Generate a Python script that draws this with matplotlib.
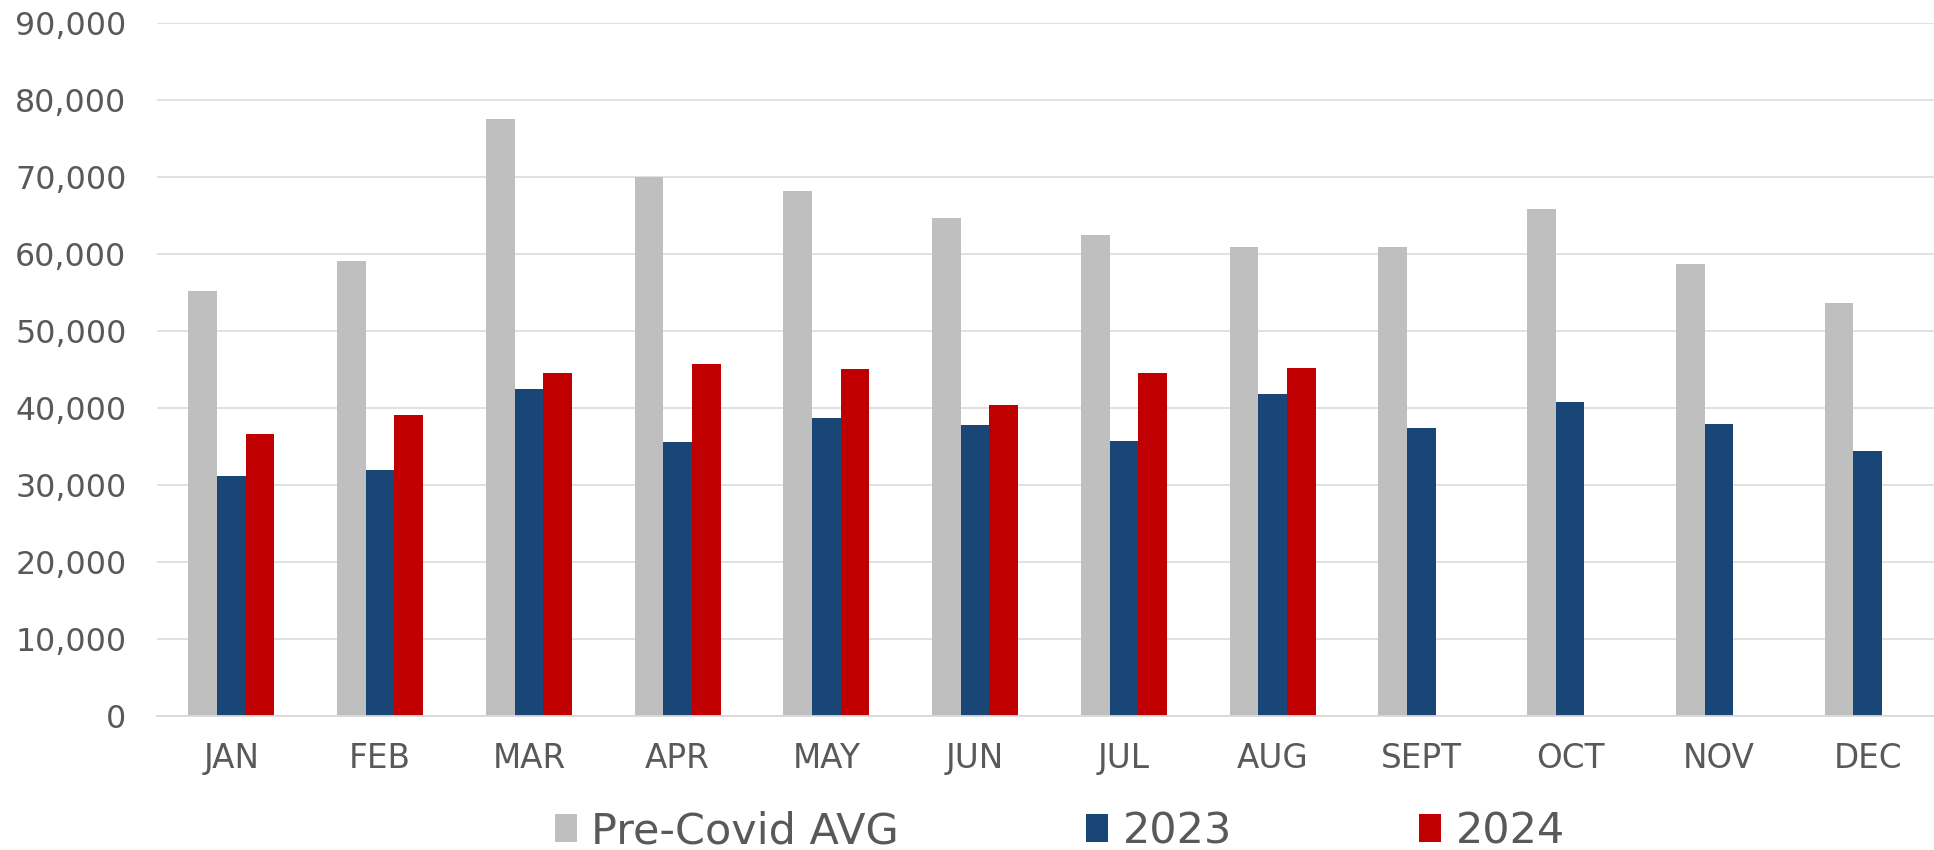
import matplotlib
matplotlib.use("Agg")
import matplotlib.pyplot as plt
import numpy as np
from matplotlib.ticker import FuncFormatter

months = ["JAN", "FEB", "MAR", "APR", "MAY", "JUN", "JUL", "AUG", "SEPT", "OCT", "NOV", "DEC"]
pre_covid = [55100, 59000, 77500, 69900, 68100, 64600, 62400, 60900, 60900, 65800, 58700, 53600]
y2023 = [31100, 31900, 42400, 35500, 38700, 37800, 35700, 41800, 37300, 40700, 37900, 34400]
y2024 = [36600, 39000, 44500, 45700, 45000, 40300, 44500, 45200]
series_names = ["Pre-Covid AVG", "2023", "2024"]

c_gray = "#BFBFBF"
c_blue = "#1A4677"
c_red = "#C00000"
txt = "#595959"
grid = "#D9D9D9"

plt.rcParams["font.family"] = ["DejaVu Sans"]

fig = plt.figure(figsize=(19.34, 8.50), dpi=100)
ax = fig.add_axes([157/1934, 1 - 715.7/850, (1942-157)/1934, (715.7-22.7)/850])

x = np.arange(len(months))
w = 0.193
ax.bar(x - w, pre_covid, w, color=c_gray, label=series_names[0], zorder=3)
ax.bar(x, y2023, w, color=c_blue, label=series_names[1], zorder=3)
ax.bar(np.arange(len(y2024)) + w, y2024, w, color=c_red, label=series_names[2], zorder=3)

ax.set_xlim(-0.5, len(months) - 0.5)
ax.set_ylim(0, 90000)
ax.set_yticks(np.arange(0, 90001, 10000))
ax.yaxis.set_major_formatter(FuncFormatter(lambda v, p: f"{int(v):,}"))
ax.set_xticks(x)
ax.set_xticklabels(months)
ax.grid(axis="y", color=grid, linewidth=1.1, zorder=0)
for s in ["top", "right", "left"]:
    ax.spines[s].set_visible(False)
ax.spines["bottom"].set_color(grid)
ax.spines["bottom"].set_linewidth(1.3)
ax.spines["bottom"].set_zorder(4)
ax.tick_params(axis="both", length=0, labelcolor=txt)
ax.tick_params(axis="y", pad=22, labelsize=22.8)
ax.tick_params(axis="x", pad=19, labelsize=23.5)

leg = fig.legend(loc="center", bbox_to_anchor=(1060/1934, 1 - 831/850), ncol=3,
                 frameon=False, fontsize=31, handlelength=0.51, handleheight=0.63,
                 handletextpad=0.33, columnspacing=4.35, borderpad=0, borderaxespad=0)
for t in leg.get_texts():
    t.set_color(txt)

fig.savefig("out.png", dpi=100)
